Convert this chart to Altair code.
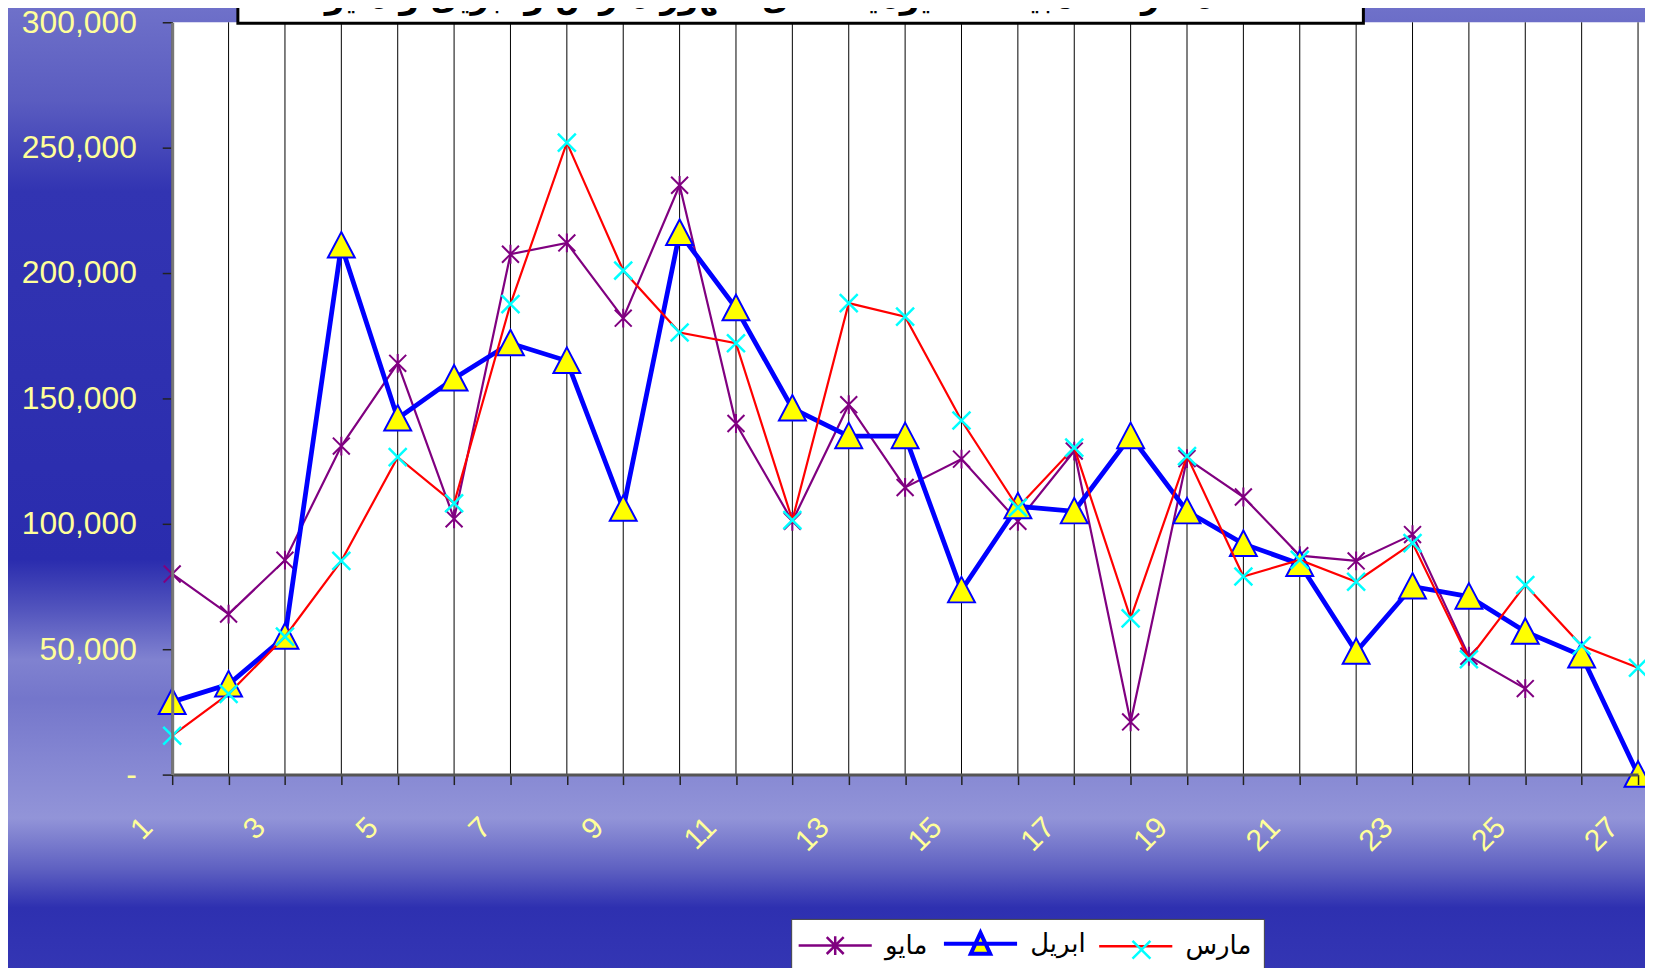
import altair as alt
import pandas as pd

# ---------------- data ----------------
days = list(range(1, 28))
march_vals = [15500, 32200, 55000, 85200, 126600, 108200, 187600, 252000, 201000,
              176300, 172000, 101500, 188000, 182600, 141200, 106500, 130400, 62300,
              127000, 79000, 85600, 76900, 92300, 46000, 75600, 51400, 42600]
april_vals = [29000, 36000, 55000, 211000, 142000, 158000, 172000, 165000, 106000,
              216000, 186000, 146000, 135000, 135000, 73500, 107000, 105000, 135000,
              105000, 92000, 84000, 49000, 75000, 71000, 57000, 47500, 0]
may_vals = [80000, 64000, 85500, 131000, 164000, 102000, 207500, 212000, 182000,
            235000, 140000, 101000, 147500, 114500, 125800, 101000, 129000, 21000,
            126000, 110700, 87300, 85200, 95700, 47200, 34300]

series_names = ["مايو", "ابريل", "مارس"]
y_ticks = [0, 50000, 100000, 150000, 200000, 250000, 300000]
title_text = "مقارنة المبيعات اليومية خلال شهور مارس و ابريل و مايو"

# ---------------- styles ----------------
line_colors = ["#800080", "#0000FF", "#FF0000"]
line_widths = [2.2, 4.8, 2.2]
# plot markers (unit paths)
star_path = "M-0.9,-0.9L0.9,0.9M-0.9,0.9L0.9,-0.9M0,-1L0,1"
tri_path = "M0,-1L1,0.9L-1,0.9Z"
x_path = "M-1,-1L1,1M-1,1L1,-1"
# legend symbols (line + marker), unit = 17.5 px
leg_star = "M-2.1,0L2.1,0M-0.486,-0.486L0.486,0.486M-0.486,0.486L0.486,-0.486M0,-0.54L0,0.54"
leg_tri = "M-2.1,0L2.1,0M0,-0.63L0.557,0.57L-0.557,0.57Z"
leg_line = "M-2.1,0L2.1,0"
leg_x = "M-0.514,-0.514L0.514,0.514M-0.514,0.514L0.514,-0.514"

W, H = 1473, 756
YEL = "#FFFF99"

rows = []
for name, vals in zip(series_names, [may_vals, april_vals, march_vals]):
    for d, v in zip(days, vals):
        rows.append({"day": d, "value": v, "series": name, "sm": "m3"})
df = pd.DataFrame(rows)
days_df = pd.DataFrame({"day": days})
one = pd.DataFrame({"k": [0]})

x_axis = alt.Axis(values=days, labelExpr="datum.value % 2 == 1 ? datum.label : ''",
                  labelAngle=-45, labelAlign="right", labelBaseline="middle",
                  labelOffset=-25, labelPadding=38, labelFontSize=30,
                  labelFont="Liberation Sans", labelColor=YEL, tickSize=10,
                  tickColor="#222222", tickWidth=1.5, domainColor="#555555",
                  domainWidth=3, grid=False, title=None, zindex=1,
                  labelOverlap=False, labelFlush=False)
y_axis = alt.Axis(values=y_ticks,
                  labelExpr="datum.value == 0 ? '-\u00a0\u00a0\u00a0\u00a0\u00a0' : format(datum.value, ',')",
                  labelFontSize=32, labelFont="Liberation Sans", labelColor=YEL,
                  labelPadding=26, tickSize=10, tickColor="#222222", tickWidth=1.5,
                  domainColor="#777777", domainWidth=3, grid=False, title=None,
                  zindex=1)
x_enc = alt.X("day:Q", scale=alt.Scale(domain=[1, 27], nice=False, zero=False), axis=x_axis)
y_enc = alt.Y("value:Q", scale=alt.Scale(domain=[0, 300000], nice=False), axis=y_axis)

LEG_X, LEG_Y = 622, 901
leg_a = alt.Legend(orient="none", legendX=LEG_X, legendY=LEG_Y, direction="horizontal",
                   title=None, labelFont="DejaVu Sans", labelFontSize=26,
                   labelColor="black", labelOffset=37, symbolOffset=19.25,
                   columnPadding=8, padding=12, symbolSize=1225,
                   symbolStrokeWidth={"expr": "datum.value == '" + series_names[1] + "' ? 4 : 2.5"},
                   symbolOpacity=1, fillColor="white", strokeColor="#444444")
leg_b = alt.Legend(orient="none", legendX=955, legendY=LEG_Y + 12, direction="horizontal",
                   title=None, labelExpr="''", labelFontSize=26, padding=0,
                   symbolOffset=0, symbolSize=1225, symbolType=leg_x,
                   symbolStrokeWidth=2.5, symbolOpacity=1)

color_scale = alt.Scale(domain=series_names, range=line_colors)

# ---------------- decoration ----------------
grad = alt.LinearGradient(gradient="linear", x1=0, y1=0, x2=0, y2=1, stops=[
    alt.GradientStop(offset=0.0, color="#7072ca"),
    alt.GradientStop(offset=0.102, color="#5a5cc0"),
    alt.GradientStop(offset=0.194, color="#3234b2"),
    alt.GradientStop(offset=0.573, color="#2a2cae"),
    alt.GradientStop(offset=0.624, color="#5254bd"),
    alt.GradientStop(offset=0.676, color="#8082d0"),
    alt.GradientStop(offset=0.716, color="#7476cb"),
    alt.GradientStop(offset=0.778, color="#8486d2"),
    alt.GradientStop(offset=0.839, color="#9294d8"),
    alt.GradientStop(offset=0.89, color="#6062c2"),
    alt.GradientStop(offset=0.931, color="#2e30b0"),
    alt.GradientStop(offset=1.0, color="#3436b4"),
])
bg = alt.Chart(one).mark_rect(fill=grad).encode(
    x=alt.value(-173), x2=alt.value(1480), y=alt.value(-20), y2=alt.value(957))
plot_bg = alt.Chart(one).mark_rect(fill="white").encode(
    x=alt.value(0), x2=alt.value(1480), y=alt.value(0), y2=alt.value(H))
grid = alt.Chart(days_df).mark_rule(color="black", strokeWidth=1).encode(
    x=x_enc, y=alt.value(0), y2=alt.value(H))
title_box = alt.Chart(one).mark_rect(fill="white", stroke="black", strokeWidth=3).encode(
    x=alt.value(66), x2=alt.value(1197), y=alt.value(-60), y2=alt.value(1))
title_txt = alt.Chart(one).mark_text(text=title_text, font="DejaVu Sans", fontSize=32,
                                     fontWeight="bold", color="black", align="center",
                                     baseline="alphabetic").encode(
    x=alt.value(600), y=alt.value(-14))

# invisible layer that carries the combined legend (line + marker symbols)
legend_layer = alt.Chart(df).transform_filter("false").mark_point(opacity=1).encode(
    x=x_enc, y=y_enc,
    color=alt.Color("series:N", scale=color_scale, legend=leg_a),
    shape=alt.Shape("series:N", scale=alt.Scale(domain=series_names, range=[leg_star, leg_tri, leg_line]), legend=leg_a),
    fill=alt.Fill("series:N", scale=alt.Scale(domain=series_names, range=["transparent", "#FFFF00", "transparent"]), legend=leg_a),
)

layers = [bg, plot_bg, grid, legend_layer]
marker_specs = [
    dict(shape=star_path, size=357, stroke="#800080", fill="transparent", strokeWidth=2),
    dict(shape=tri_path, size=729, stroke="#0000FF", fill="#FFFF00", strokeWidth=2),
    dict(shape=x_path, size=324, fill="transparent", strokeWidth=2.5),
]
for i, name in enumerate(series_names):
    base = alt.Chart(df).transform_filter(alt.datum.series == name)
    layers.append(base.mark_line(strokeWidth=line_widths[i]).encode(
        x=x_enc, y=y_enc, color=alt.Color("series:N", scale=color_scale, legend=None)))
    pts = base.mark_point(opacity=1, **marker_specs[i]).encode(x=x_enc, y=y_enc)
    if i == 2:
        pts = pts.encode(stroke=alt.Stroke("sm:N", scale=alt.Scale(domain=["m3"], range=["#00FFFF"]), legend=leg_b))
    layers.append(pts)
layers += [title_box, title_txt]

chart = alt.layer(*layers).properties(
    width=W, height=H,
    autosize=alt.AutoSizeParams(type="none"),
    padding={"left": 165, "top": 12, "right": 7, "bottom": 192},
    background="#2b2db1",
).configure_view(stroke=None)

chart.save("out.html", embed_options={"renderer": "svg", "actions": False})
